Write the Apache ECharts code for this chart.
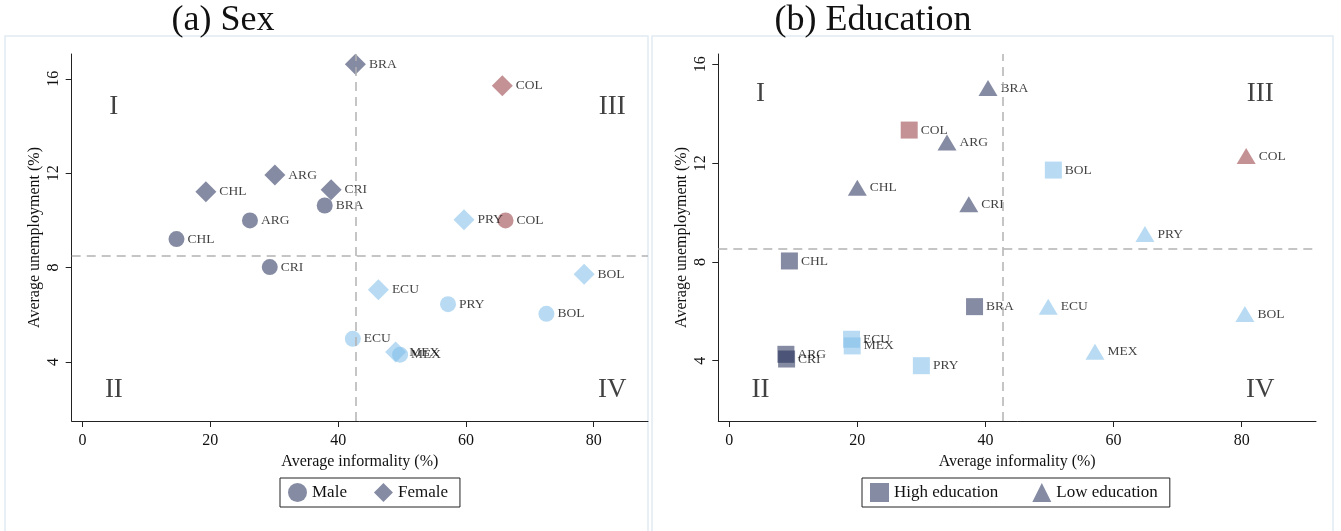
<!DOCTYPE html>
<html>
<head>
<meta charset="utf-8">
<script src="https://cdn.jsdelivr.net/npm/echarts@6/dist/echarts.min.js"></script>
<style>
  html, body { margin: 0; padding: 0; background: #fff; }
  #chart { width: 1341px; height: 531px; }
</style>
</head>
<body>
<div id="chart"></div>
<script>
// (a) Sex: [informality, unemployment, country]
const maleData = [
  [14.7, 9.21, "CHL"],
  [26.2, 10.0, "ARG"],
  [29.3, 8.02, "CRI"],
  [37.9, 10.63, "BRA"],
  [66.2, 10.0, "COL"],
  [42.3, 4.98, "ECU"],
  [49.7, 4.31, "MEX"],
  [57.2, 6.45, "PRY"],
  [72.6, 6.04, "BOL"],
];
const femaleData = [
  [19.3, 11.21, "CHL"],
  [30.1, 11.92, "ARG"],
  [38.9, 11.3, "CRI"],
  [42.7, 16.62, "BRA"],
  [65.7, 15.7, "COL"],
  [59.7, 10.03, "PRY"],
  [78.5, 7.72, "BOL"],
  [46.3, 7.06, "ECU"],
  [49.0, 4.42, "MEX"],
];
// (b) Education
const highEduData = [
  [28.1, 13.34, "COL"],
  [9.4, 8.04, "CHL"],
  [8.85, 4.26, "ARG"],
  [8.96, 4.07, "CRI"],
  [19.1, 4.87, "ECU"],
  [19.2, 4.6, "MEX"],
  [30.0, 3.8, "PRY"],
  [38.3, 6.19, "BRA"],
  [50.6, 11.72, "BOL"],
];
const lowEduData = [
  [20.0, 11.0, "CHL"],
  [37.4, 10.34, "CRI"],
  [34.0, 12.84, "ARG"],
  [40.4, 15.04, "BRA"],
  [80.7, 12.29, "COL"],
  [64.9, 9.13, "PRY"],
  [49.8, 6.19, "ECU"],
  [80.5, 5.89, "BOL"],
  [57.1, 4.36, "MEX"],
];
const meanInformality = [42.8, 42.7];
const meanUnemployment = [8.51, 8.52];
const xTicks = [0, 20, 40, 60, 80];
const yTicks = [4, 8, 12, 16];
const quadrants = [
  [4.9, 14.8, "I"], [4.9, 2.8, "II"], [82.9, 14.8, "III"], [82.9, 2.8, "IV"],
];

const font = "Liberation Serif";
const dark = "rgba(28,40,82,0.67)";
const red = "rgba(145,52,57,0.67)";
const light = "rgba(122,188,232,0.67)";
const groupColor = {
  ARG: dark, BRA: dark, CHL: dark, CRI: dark,
  COL: red,
  BOL: light, ECU: light, MEX: light, PRY: light,
};

function points(arr) {
  return arr.map((d) => ({
    value: [d[0], d[1]],
    name: d[2],
    itemStyle: { color: groupColor[d[2]] },
  }));
}

function scatter(name, data, symbol, size, idx) {
  return {
    name: name,
    type: "scatter",
    xAxisIndex: idx,
    yAxisIndex: idx,
    symbol: symbol,
    symbolSize: size,
    data: points(data),
    itemStyle: { color: dark },
    label: {
      show: true,
      position: "right",
      distance: 3,
      formatter: (p) => p.name,
      fontFamily: font,
      fontSize: 13.5,
      color: "#111",
    },
    emphasis: { disabled: true },
    z: 3,
  };
}

function quadSeries(idx) {
  return {
    type: "scatter",
    xAxisIndex: idx,
    yAxisIndex: idx,
    symbolSize: 1,
    itemStyle: { color: "rgba(0,0,0,0)" },
    data: quadrants.map((q) => ({ value: [q[0], q[1]], name: q[2] })),
    label: {
      show: true,
      position: "inside",
      formatter: (p) => p.name,
      fontFamily: font,
      fontSize: 27,
      color: "#111",
    },
    silent: true,
    markLine: {
      silent: true,
      symbol: "none",
      label: { show: false },
      lineStyle: { color: "#b3b3b3", type: [9, 6], width: 1.5 },
      data: [{ xAxis: meanInformality[idx] }, { yAxis: meanUnemployment[idx] }],
    },
    z: 1,
  };
}

function xAxis(idx, max) {
  return {
    type: "value",
    gridIndex: idx,
    min: -1.7,
    max: max,
    name: "Average informality (%)",
    nameLocation: "middle",
    nameGap: 32,
    nameTextStyle: { fontFamily: font, fontSize: 16, color: "#111" },
    axisLine: { show: true, onZero: false, lineStyle: { color: "#222", width: 1 } },
    axisTick: { show: true, length: 6, customValues: xTicks, lineStyle: { color: "#222" } },
    axisLabel: { customValues: xTicks, fontFamily: font, fontSize: 16, color: "#111", margin: 12 },
    splitLine: { show: false },
  };
}

function yAxis(idx, min, max) {
  return {
    type: "value",
    gridIndex: idx,
    min: min,
    max: max,
    name: "Average unemployment (%)",
    nameLocation: "middle",
    nameGap: 29,
    nameTextStyle: { fontFamily: font, fontSize: 16, color: "#111" },
    axisLine: { show: true, onZero: false, lineStyle: { color: "#222", width: 1 } },
    axisTick: { show: true, length: 6, customValues: yTicks, lineStyle: { color: "#222" } },
    axisLabel: { customValues: yTicks, rotate: 90, fontFamily: font, fontSize: 16, color: "#111", margin: 10 },
    splitLine: { show: false },
  };
}

const chart = echarts.init(document.getElementById("chart"));
chart.setOption({
  backgroundColor: "#fff",
  animation: false,
  graphic: [
    { type: "rect", shape: { x: 5, y: 36, width: 643, height: 500 }, style: { fill: "none", stroke: "#e1ecf3", lineWidth: 1.5 } },
    { type: "rect", shape: { x: 652, y: 36, width: 681, height: 500 }, style: { fill: "none", stroke: "#e1ecf3", lineWidth: 1.5 } },
  ],
  title: [
    { text: "(a) Sex", left: 218, top: -2, textAlign: "center", textStyle: { fontFamily: font, fontSize: 36, fontWeight: "normal", color: "#111" } },
    { text: "(b) Education", left: 868, top: -2, textAlign: "center", textStyle: { fontFamily: font, fontSize: 36, fontWeight: "normal", color: "#111" } },
  ],
  legend: [
    {
      data: ["Male", "Female"],
      left: 280, top: 478,
      borderColor: "#222", borderWidth: 1, borderRadius: 0,
      padding: [5, 12, 5, 8],
      itemWidth: 19, itemHeight: 19, itemGap: 27,
      textStyle: { fontFamily: font, fontSize: 17, color: "#111" },
    },
    {
      data: ["High education", "Low education"],
      left: 862, top: 478,
      borderColor: "#222", borderWidth: 1, borderRadius: 0,
      padding: [5, 12, 5, 8],
      itemWidth: 19, itemHeight: 19, itemGap: 34,
      textStyle: { fontFamily: font, fontSize: 17, color: "#111" },
    },
  ],
  grid: [
    { left: 71.7, right: 1341 - 648, top: 54, bottom: 110 },
    { left: 718.3, right: 1341 - 1316, top: 54, bottom: 110 },
  ],
  xAxis: [xAxis(0, 88.5), xAxis(1, 91.6)],
  yAxis: [yAxis(0, 1.5, 17.05), yAxis(1, 1.56, 16.42)],
  series: [
    quadSeries(0),
    quadSeries(1),
    scatter("Male", maleData, "circle", 16, 0),
    scatter("Female", femaleData, "diamond", 21, 0),
    scatter("High education", highEduData, "rect", 17, 1),
    scatter("Low education", lowEduData, "triangle", [19, 16], 1),
  ],
});
</script>
</body>
</html>
